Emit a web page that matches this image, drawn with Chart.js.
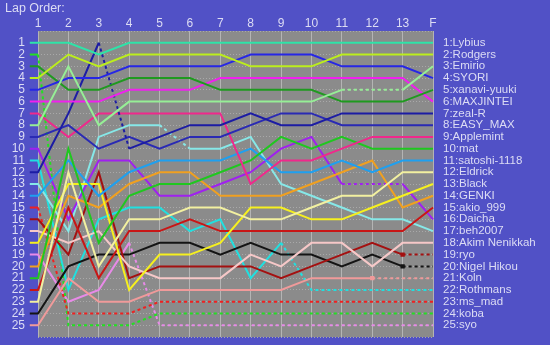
<!DOCTYPE html>
<html lang="ja">
<head>
<meta charset="UTF-8">
<title>Lap Order</title>
<script src="https://cdn.jsdelivr.net/npm/chart.js"></script>
<style>
  * { margin: 0; padding: 0; box-sizing: border-box; }
  body {
    background: #5151c6;
    width: 550px;
    height: 345px;
    overflow: hidden;
    font-family: 'Liberation Sans', Arial, sans-serif;
  }
  .wrap { position: relative; width: 550px; height: 345px; }
  canvas { position: absolute; left: 0; top: 0; }
  h1 {
    position: absolute;
    left: 5px;
    top: 1px;
    font-size: 12.5px;
    font-weight: normal;
    color: #dcdcf4;
  }
</style>
</head>
<body>
<div class="wrap">
  <canvas id="lapChart" width="550" height="345"></canvas>
  <h1>Lap Order:</h1>
</div>

<script>
// lap columns (start grid = "1", finish = "F")
const lapLabels = ['1', '2', '3', '4', '5', '6', '7', '8', '9', '10', '11', '12', '13', 'F'];

// drivers in finishing order
const drivers = ['Lybius', 'Rodgers', 'Emirio', 'SYORI', 'xanavi-yuuki', 'MAXJINTEI', 'zeal-R',
  'EASY_MAX', 'Applemint', 'mat', 'satoshi-1118', 'Eldrick', 'Black', 'GENKI', 'akio_999',
  'Daicha', 'beh2007', 'Akim Nenikkah', 'ryo', 'Nigel Hikou', 'Koln', 'Rothmans', 'ms_mad',
  'koba', 'syo'];

// running position of each driver at every column
const posLybius    = [1, 1, 2, 1, 1, 1, 1, 1, 1, 1, 1, 1, 1, 1];
const posRodgers   = [4, 2, 3, 2, 2, 2, 2, 3, 3, 3, 2, 2, 2, 2];
const posEmirio    = [8, 3, 8, 6, 6, 6, 6, 6, 6, 6, 5, 5, 5, 3];
const posSyori     = [5, 4, 4, 3, 3, 3, 3, 2, 2, 2, 3, 3, 3, 4];
const posXanavi    = [3, 5, 5, 4, 4, 4, 5, 5, 5, 5, 6, 6, 6, 5];
const posMaxjintei = [6, 6, 6, 5, 5, 5, 4, 4, 4, 4, 4, 4, 4, 6];
const posZealR     = [12, 7, 1, 10, 9, 8, 8, 7, 8, 8, 7, 7, 7, 7];
const posEasyMax   = [9, 8, 10, 9, 10, 9, 9, 8, 7, 7, 8, 8, 8, 8];
const posApplemint = [7, 9, 7, 7, 7, 7, 7, 13, 11, 11, 10, 9, 9, 9];
const posMat       = [21, 10, 18, 14, 13, 13, 12, 11, 9, 10, 9, 10, 10, 10];
const posSatoshi   = [14, 11, 14, 12, 11, 11, 11, 10, 12, 12, 11, 12, 11, 11];
const posEldrick   = [23, 12, 20, 16, 16, 15, 15, 16, 16, 15, 14, 14, 12, 12];
const posBlack     = [18, 13, 13, 22, 19, 19, 18, 15, 15, 16, 16, 15, 14, 13];
const posGenki     = [20, 14, 15, 13, 12, 12, 14, 14, 14, 13, 12, 11, 15, 14];
const posAkio      = [22, 15, 21, 17, 17, 16, 17, 17, 17, 17, 17, 17, 17, 15];
const posDaicha    = [10, 16, 11, 11, 14, 14, 13, 12, 10, 9, 13, 13, 13, 16];
const posBeh       = [13, 17, 9, 8, 8, 10, 10, 9, 13, 14, 15, 16, 16, 17];
const posAkim      = [17, 18, 17, 20, 21, 21, 21, 19, 20, 18, 18, 20, 18, 18];
const posRyo       = [16, 19, 12, 21, 20, 20, 20, 20, 21, 20, 19, 18, 19, 19];
const posNigel     = [24, 20, 19, 19, 18, 18, 19, 18, 19, 19, 20, 19, 20, 20];
const posKoln      = [25, 21, 23, 23, 22, 22, 22, 22, 22, 21, 21, 21, 21, 21];
const posRothmans  = [11, 22, 16, 15, 15, 17, 16, 21, 18, 22, 22, 22, 22, 22];
const posMsMad     = [15, 24, 24, 24, 23, 23, 23, 23, 23, 23, 23, 23, 23, 23];
const posKoba      = [2, 25, 25, 25, 24, 24, 24, 24, 24, 24, 24, 24, 24, 24];
const posSyo       = [19, 23, 22, 18, 25, 25, 25, 25, 25, 25, 25, 25, 25, 25];

const positions = [posLybius, posRodgers, posEmirio, posSyori, posXanavi, posMaxjintei, posZealR,
  posEasyMax, posApplemint, posMat, posSatoshi, posEldrick, posBlack, posGenki, posAkio,
  posDaicha, posBeh, posAkim, posRyo, posNigel, posKoln, posRothmans, posMsMad, posKoba, posSyo];

// segments (column k -> k+1) drawn dotted, per driver
const dottedLaps = [[], [], [10, 11], [], [], [], [2], [], [], [], [], [], [], [], [],
  [10, 11], [4], [], [12], [12], [11, 12], [8, 9, 10, 11, 12],
  [0, 1, 2, 3, 4, 5, 6, 7, 8, 9, 10, 11, 12], [0, 1, 2, 3, 4, 5, 6, 7, 8, 9, 10, 11, 12],
  [3, 4, 5, 6, 7, 8, 9, 10, 11, 12]];

// drivers whose last timed lap gets a dot before the dotted tail
const markedDrivers = ['ryo', 'Nigel Hikou', 'Koln'];

const colors = ['#2ee4a8', '#bcee1c', '#96ee96', '#2626e6', '#1f9a1f', '#f020ee', '#1c1ca4',
  '#2a2ab4', '#f0288c', '#1fc81f', '#1ea0f0', '#f2f0a0', '#f6f01e', '#f0a020', '#c81616',
  '#a020f0', '#86e8e8', '#f6c8c8', '#a41010', '#141414', '#f09a9a', '#20e0e0', '#f02020',
  '#22e022', '#e88ae8'];

const textColor = '#dcdcf4';
const font = { family: "'Liberation Sans', Arial, sans-serif", size: 12 };
const lastLap = lapLabels.length - 1;

const datasets = drivers.map((name, i) => {
  const pos = positions[i];
  const dots = dottedLaps[i];
  // short lead-in on the left and tail into the name on the right
  const pts = [{ x: -0.27, y: pos[0] }]
    .concat(pos.map((p, k) => ({ x: k, y: p })))
    .concat([{ x: lastLap + 0.26, y: pos[lastLap] }]);
  // point index where the trailing dotted run starts
  let tailStart = -1;
  if (markedDrivers.includes(name) && dots.length) tailStart = dots[0] + 1;
  return {
    label: name,
    data: pts,
    borderColor: colors[i],
    backgroundColor: colors[i],
    borderWidth: 2,
    pointRadius: ctx => (ctx.dataIndex === pts.length - 1 || ctx.dataIndex === tailStart ? 1.6 : 0),
    pointStyle: 'rect',
    tension: 0,
    clip: false,
    segment: {
      borderDash: ctx => {
        const k = Math.min(ctx.p0DataIndex - 1, lastLap - 1);
        return ctx.p0DataIndex > 0 && dots.includes(k) ? [3, 3] : undefined;
      }
    }
  };
});

// gray plotting field
const fieldBg = {
  id: 'fieldBg',
  beforeDraw(chart) {
    const { ctx, chartArea: a } = chart;
    ctx.save();
    ctx.fillStyle = '#8b8b8b';
    ctx.fillRect(a.left, a.top, a.right - a.left, a.bottom - a.top);
    ctx.restore();
  }
};

// fixed axis sizes, no extra label padding
const fitTo = (w, h) => s => {
  if (w !== null) s.width = w;
  if (h !== null) s.height = h;
  s.paddingTop = 0; s.paddingBottom = 0; s.paddingLeft = 0; s.paddingRight = 0;
};

new Chart(document.getElementById('lapChart'), {
  type: 'line',
  data: { datasets },
  plugins: [fieldBg],
  options: {
    responsive: false,
    animation: false,
    layout: { padding: { bottom: 8 } },
    plugins: { legend: { display: false }, tooltip: { enabled: false } },
    scales: {
      x: {
        type: 'linear',
        position: 'top',
        min: 0,
        max: lastLap,
        afterFit: fitTo(null, 31),
        ticks: { stepSize: 1, color: textColor, font, padding: 0, callback: v => lapLabels[v] },
        grid: { color: '#b4b4b4', drawTicks: false },
        border: { display: false }
      },
      y: {
        type: 'linear',
        min: 0,
        max: 26,
        reverse: true,
        afterFit: fitTo(38, null),
        ticks: {
          stepSize: 1, autoSkip: false, color: textColor, font, padding: 13,
          callback: v => (v >= 1 && v <= 25 ? String(v) : '')
        },
        grid: { color: '#a9a9a9', drawTicks: false },
        border: { display: false, dash: [1, 2] }
      },
      names: {
        type: 'linear',
        position: 'right',
        min: 0,
        max: 26,
        reverse: true,
        afterFit: fitTo(117, null),
        ticks: {
          stepSize: 1, autoSkip: false, color: textColor,
          font: { family: font.family, size: 11.5 }, padding: 10,
          callback: v => (v >= 1 && v <= 25 ? v + ':' + drivers[v - 1] : '')
        },
        grid: { display: false, drawTicks: false },
        border: { display: false }
      }
    }
  }
});
</script>
</body>
</html>
